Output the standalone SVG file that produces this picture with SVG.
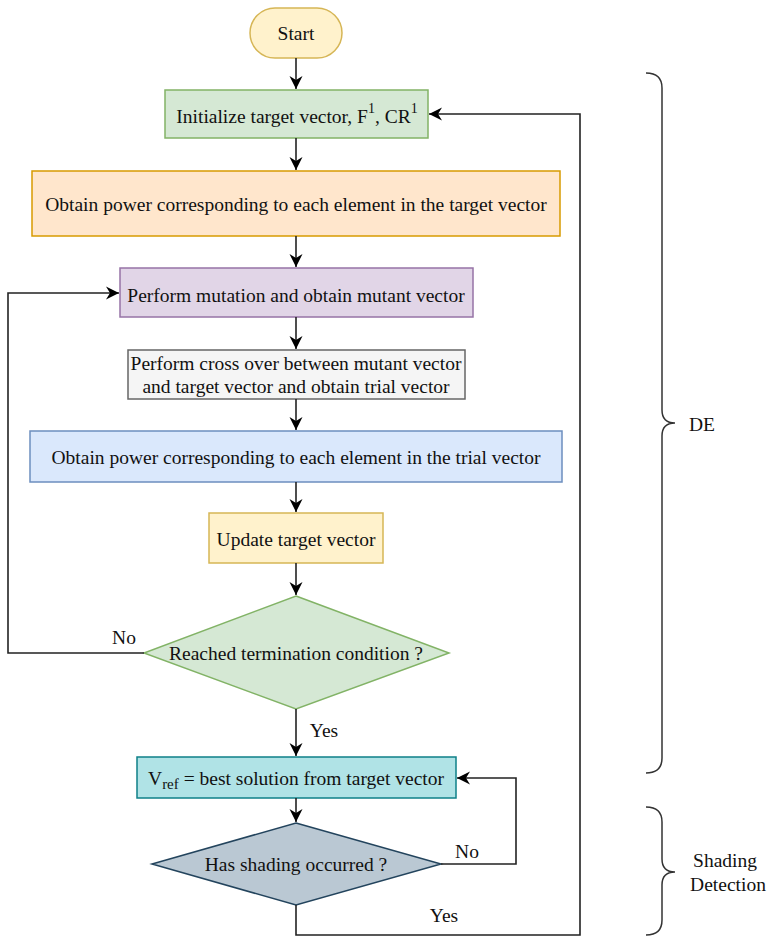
<svg xmlns="http://www.w3.org/2000/svg" width="768" height="937" viewBox="0 0 768 937">
<defs>
<marker id="ah" viewBox="0 0 14 14" refX="13" refY="7" markerWidth="14" markerHeight="14" markerUnits="userSpaceOnUse" orient="auto">
<path d="M0,0.5 L13,7 L0,13.5 L4,7 Z" fill="#000"/>
</marker>
<style>
text{font-family:'Liberation Serif','DejaVu Serif',serif;font-size:19.5px;fill:#111;text-anchor:middle;dominant-baseline:central}
.c{fill:none;stroke:#222;stroke-width:1.6}
.a{marker-end:url(#ah)}
.b{fill:none;stroke:#333;stroke-width:1.5}
</style>
</defs>
<rect width="768" height="937" fill="#fff"/>
<g id="start"><rect x="250" y="8" width="92" height="50" rx="25" fill="#fff2cc" stroke="#d6b656" stroke-width="1.5"/><text x="296" y="33">Start</text></g>
<g id="init"><rect x="165" y="90" width="263" height="48" fill="#d5e8d4" stroke="#82b366" stroke-width="1.5"/><text x="297" y="116">Initialize target vector, F<tspan dy="-8" font-size="14">1</tspan><tspan dy="8">, CR</tspan><tspan dy="-8" font-size="14">1</tspan></text></g>
<g id="power1"><rect x="32" y="171" width="528" height="65" fill="#ffe6cc" stroke="#d79b00" stroke-width="1.5"/><text x="296" y="204">Obtain power corresponding to each element in the target vector</text></g>
<g id="mutation"><rect x="120" y="268" width="353" height="49" fill="#e1d5e7" stroke="#9673a6" stroke-width="1.5"/><text x="296" y="295">Perform mutation and obtain mutant vector</text></g>
<g id="crossover"><rect x="128" y="350" width="337" height="49" fill="#f5f5f5" stroke="#666" stroke-width="1.5"/><text x="296" y="363">Perform cross over between mutant vector</text><text x="296" y="386">and target vector and obtain trial vector</text></g>
<g id="power2"><rect x="30" y="431" width="532" height="51" fill="#dae8fc" stroke="#6c8ebf" stroke-width="1.5"/><text x="296" y="457">Obtain power corresponding to each element in the trial vector</text></g>
<g id="update"><rect x="209" y="513" width="174" height="50" fill="#fff2cc" stroke="#d6b656" stroke-width="1.5"/><text x="296" y="539">Update target vector</text></g>
<g id="term"><polygon points="296,596 449,653 296,709 144,653" fill="#d5e8d4" stroke="#82b366" stroke-width="1.5"/><text x="296" y="653">Reached termination condition ?</text></g>
<g id="vref"><rect x="137" y="757" width="319" height="41" fill="#b0e3e6" stroke="#0e8088" stroke-width="1.5"/><text x="296" y="778">V<tspan dy="6" font-size="15">ref</tspan><tspan dy="-6"> = best solution from target vector</tspan></text></g>
<g id="shading"><polygon points="296,823 441,864 296,905 152,864" fill="#bac8d3" stroke="#23445d" stroke-width="1.5"/><text x="296" y="864">Has shading occurred ?</text></g>
<g id="connectors">
<path class="c a" d="M296,58 V89"/>
<path class="c a" d="M296,138 V170"/>
<path class="c a" d="M296,236 V267"/>
<path class="c a" d="M296,317 V349"/>
<path class="c a" d="M296,399 V430"/>
<path class="c a" d="M296,482 V512"/>
<path class="c a" d="M296,563 V595"/>
<path class="c a" d="M144,653 H8 V293 H119"/>
<path class="c a" d="M296,709 V756"/>
<path class="c a" d="M296,798 V822"/>
<path class="c a" d="M441,864 H516 V778 H457"/>
<path class="c a" d="M296,905 V935 H580 V114 H429"/>
<text x="124" y="637">No</text>
<text x="324" y="730">Yes</text>
<text x="467" y="851">No</text>
<text x="444" y="915">Yes</text>
</g>
<g id="brace-de">
<path class="b" d="M646,73 Q662,73 662,88 V410 Q662,423 675,423 Q662,423 662,436 V758 Q662,773 646,773"/>
<text x="702" y="424" font-size="19">DE</text>
</g>
<g id="brace-shading">
<path class="b" d="M646,807 Q662,807 662,822 V859 Q662,872 675,872 Q662,872 662,885 V920 Q662,935 646,935"/>
<text x="725" y="860" font-size="18.5">Shading</text>
<text x="728" y="884" font-size="18.5">Detection</text>
</g>
</svg>
